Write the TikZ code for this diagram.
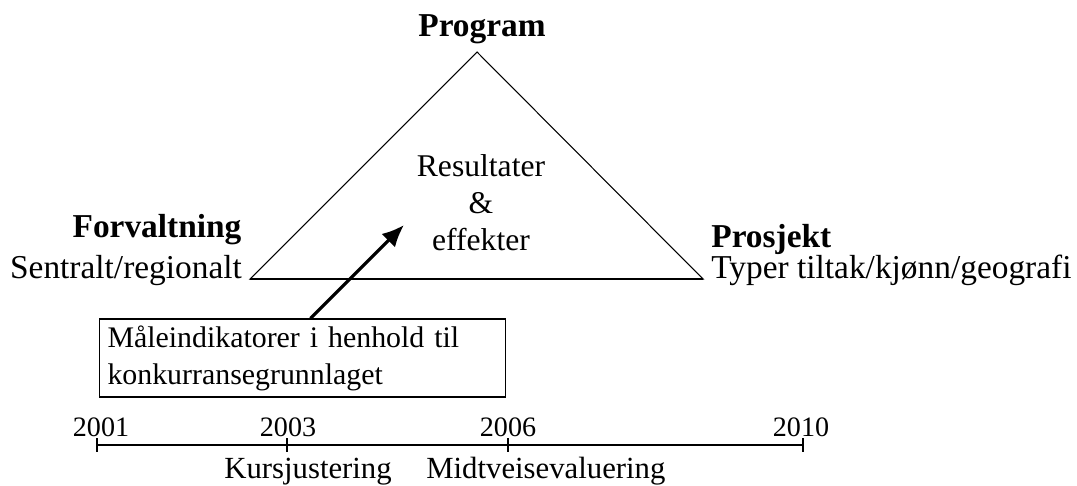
\documentclass[tikz,border=0pt]{standalone}
\usepackage{fontspec}
\setmainfont{Liberation Serif}
\usepackage{tikz}
\usetikzlibrary{positioning}
\usetikzlibrary{arrows.meta}
\tikzset {
  x={0.02cm}, y={-0.02cm},
  % corner labels of the triangle
  corner/.style = {font=\fontsize{19}{22}\selectfont\bfseries, inner sep=0pt, anchor=base},
  sub/.style = {font=\fontsize{19}{22}\selectfont, inner sep=0pt, anchor=base},
  % plain text
  txt/.style = {font=\fontsize{18}{20.8}\selectfont, inner sep=0pt, align=center, anchor=base},
  % the indicator box
  infobox/.style = {draw, line width=0.8pt, font=\fontsize{17}{21}\selectfont, align=left,
    minimum width=0.02cm*406, minimum height=0.02cm*78, text width=0.02cm*390,
    inner xsep=0.02cm*8, inner ysep=2pt},
  % timeline
  axis/.style = {line width=1.1pt},
  year/.style = {font=\fontsize{16}{18}\selectfont, inner sep=0pt, anchor=base},
  event/.style = {font=\fontsize{17.5}{20}\selectfont, inner sep=0pt, anchor=base west},
  pointer/.style = {-{Latex[length=4.4mm, width=3.8mm]}, line width=1.8pt},
}
\begin{document}
\begin{tikzpicture}
        \useasboundingbox (0,0) rectangle (1077,486);

        \coordinate (top) at (477, 52);
        \coordinate (left) at (250, 279);
        \coordinate (right) at (703, 279);
        \draw [line width=0.6pt] (top) -- (right) -- (left) -- cycle;
        \draw [line width=1.1pt] (left) -- (right);

        \node[corner] (program) at (482, 37) {Program};
        % base of a multi-line node is its last line
        \node[txt] (res) at (481, 250) {Resultater\\\&\\effekter};

        \node[corner] (forv) at (157, 237) {Forvaltning};
        \node[sub] (sentral) at (126, 278) {Sentralt/regionalt};
        \node[corner, anchor=base west] (prosj) at (711, 247) {Prosjekt};
        \node[sub, anchor=base west] (typer) at (711, 278) {Typer tiltak/kjønn/geografi};

        \node[infobox] (ind) at (302.5, 358) {Måleindikatorer i henhold til\\konkurransegrunnlaget};
        \coordinate (aim) at (404, 225);
        \draw [pointer] ([xshift=0.02cm*8]ind.north) -- (aim);

        \coordinate (t1) at (97, 445);
        \coordinate (t2) at (287, 445);
        \coordinate (t3) at (508, 445);
        \coordinate (t4) at (803, 445);
        \draw [axis] (t1) -- (t4);
        \draw [axis] (97, 438) -- (97, 452);
        \draw [axis] (287, 438) -- (287, 452);
        \draw [axis] (508, 438) -- (508, 452);
        \draw [axis] (803, 438) -- (803, 452);

        \node[year] (y1) at (101, 436) {2001};
        \node[year] (y2) at (288, 436) {2003};
        \node[year] (y3) at (508, 436) {2006};
        \node[year] (y4) at (801, 436) {2010};

        \node[event] (kurs) at (224, 478) {Kursjustering};
        \node[event] (midt) at (426, 478) {Midtveisevaluering};
      \end{tikzpicture}
\end{document}
